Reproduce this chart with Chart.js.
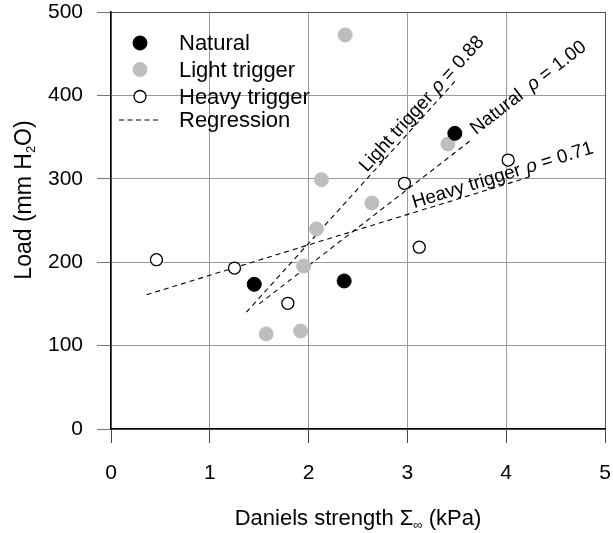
<!DOCTYPE html>
<html><head><meta charset="utf-8">
<script src="https://cdn.jsdelivr.net/npm/chart.js@4.4.1/dist/chart.umd.min.js"></script>
<style>html,body{margin:0;padding:0;background:#fff}#wrap{width:613px;height:533px;position:relative}</style>
</head><body><div id="wrap"><canvas id="c" width="613" height="533"></canvas></div>
<script>
// ---- data ----
const seriesNames = ['Natural', 'Light trigger', 'Heavy trigger', 'Regression'];
const naturalX = [1.45, 2.36, 3.48];
const naturalY = [173.5, 177.5, 354.5];
const lightX = [1.57, 1.92, 1.95, 2.08, 2.13, 2.37, 2.64, 3.41];
const lightY = [114, 117.5, 195.4, 240, 299, 472.5, 271, 341.7];
const heavyX = [0.46, 1.25, 1.79, 2.97, 3.12, 4.02];
const heavyY = [203, 193, 150.7, 294.6, 218, 322.5];
// regression line end points
const regNaturalX = [1.5, 3.63];
const regNaturalY = [150, 345];
const regLightX = [1.37, 3.49];
const regLightY = [140, 418];
const regHeavyX = [0.36, 4.23];
const regHeavyY = [161, 302];
const rhoValues = ['1.00', '0.88', '0.71'];
const xTicks = [0, 1, 2, 3, 4, 5];
const yTicks = [0, 100, 200, 300, 400, 500];
const xTitle = ['Daniels strength \u03A3', '\u221E', ' (kPa)'];
const yTitle = ['Load (mm H', '2', 'O)'];

const pts = (xs, ys) => xs.map((x, i) => ({x, y: ys[i]}));
const FONT = '"Liberation Sans", Arial, Helvetica, sans-serif';
const GRAY = '#bdbdbd';

const regStyle = {type: 'scatter', showLine: true, pointRadius: 0, borderColor: '#000',
  borderWidth: 1.1, borderDash: [5, 4], fill: false};

const datasets = [
  {label: seriesNames[0], data: pts(naturalX, naturalY), pointRadius: 7, pointBorderWidth: 1,
   backgroundColor: '#000', borderColor: '#000'},
  {label: seriesNames[1], data: pts(lightX, lightY), pointRadius: 7, pointBorderWidth: 1,
   backgroundColor: GRAY, borderColor: GRAY},
  {label: seriesNames[2], data: pts(heavyX, heavyY), pointRadius: 6, pointBorderWidth: 1.3,
   backgroundColor: '#fff', borderColor: '#000'},
  Object.assign({label: 'regNatural', data: pts(regNaturalX, regNaturalY)}, regStyle),
  Object.assign({label: 'regLight', data: pts(regLightX, regLightY)}, regStyle),
  Object.assign({label: 'regHeavy', data: pts(regHeavyX, regHeavyY)}, regStyle)
];

// line labels along regression lines
const lineLabelPlugin = {
  id: 'lineLabels',
  afterDatasetsDraw(chart, args, opts) {
    const ctx = chart.ctx, xs = chart.scales.x, ys = chart.scales.y;
    opts.items.forEach(it => {
      const ds = chart.data.datasets[it.ds].data;
      const x1 = xs.getPixelForValue(ds[0].x), y1 = ys.getPixelForValue(ds[0].y);
      const x2 = xs.getPixelForValue(ds[1].x), y2 = ys.getPixelForValue(ds[1].y);
      const ang = Math.atan2(y2 - y1, x2 - x1);
      const px = xs.getPixelForValue(it.startX);
      const py = y1 + (px - x1) * (y2 - y1) / (x2 - x1);
      const nx = Math.sin(ang), ny = -Math.cos(ang);
      ctx.save();
      ctx.translate(px + nx * it.off, py + ny * it.off);
      ctx.rotate(ang);
      ctx.fillStyle = '#000';
      ctx.textBaseline = 'alphabetic';
      ctx.textAlign = 'left';
      let cx = 0;
      const normal = opts.size + 'px ' + FONT;
      const ital = 'italic ' + opts.size + 'px ' + FONT;
      ctx.font = normal;
      ctx.fillText(it.name, cx, 0); cx += ctx.measureText(it.name).width + it.gap;
      ctx.font = ital;
      ctx.fillText('\u03C1', cx, 0); cx += ctx.measureText('\u03C1').width;
      ctx.font = normal;
      ctx.fillText(' = ' + it.rho, cx, 0);
      ctx.restore();
    });
  }
};

// legend inside plot + axis titles
const decorPlugin = {
  id: 'decor',
  afterDraw(chart) {
    const ctx = chart.ctx, a = chart.chartArea;
    ctx.save();
    // legend
    const mx = a.left + 29, tx = a.left + 68;
    const rows = [a.top + 31, a.top + 57.5, a.top + 84.5, a.top + 108];
    const dsets = chart.data.datasets;
    for (let i = 0; i < 3; i++) {
      ctx.beginPath();
      ctx.arc(mx, rows[i], dsets[i].pointRadius, 0, Math.PI * 2);
      ctx.fillStyle = dsets[i].backgroundColor; ctx.fill();
      ctx.lineWidth = dsets[i].pointBorderWidth; ctx.strokeStyle = dsets[i].borderColor; ctx.stroke();
    }
    ctx.beginPath();
    ctx.setLineDash([5, 3.5]); ctx.lineWidth = 1.1; ctx.strokeStyle = '#000';
    ctx.moveTo(a.left + 8, rows[3]); ctx.lineTo(a.left + 50, rows[3]); ctx.stroke();
    ctx.setLineDash([]);
    ctx.fillStyle = '#000'; ctx.font = '22px ' + FONT; ctx.textBaseline = 'middle'; ctx.textAlign = 'left';
    seriesNames.forEach((n, i) => ctx.fillText(n, tx, rows[i] + 1));

    // x title
    const big = '22px ' + FONT, small = '13px ' + FONT;
    ctx.font = big; const w1 = ctx.measureText(xTitle[0]).width, w3 = ctx.measureText(xTitle[2]).width;
    ctx.font = small; const w2 = ctx.measureText(xTitle[1]).width;
    let x0 = (a.left + a.right) / 2 - (w1 + w2 + w3) / 2;
    const by = 525;
    ctx.textBaseline = 'alphabetic';
    ctx.font = big; ctx.fillText(xTitle[0], x0, by);
    ctx.font = small; ctx.fillText(xTitle[1], x0 + w1, by + 4);
    ctx.font = big; ctx.fillText(xTitle[2], x0 + w1 + w2, by);

    // y title
    const ybig = '23px ' + FONT, ysmall = '13px ' + FONT;
    ctx.font = ybig; const v1 = ctx.measureText(yTitle[0]).width, v3 = ctx.measureText(yTitle[2]).width;
    ctx.font = ysmall; const v2 = ctx.measureText(yTitle[1]).width;
    ctx.translate(31, 200); ctx.rotate(-Math.PI / 2);
    let s = -(v1 + v2 + v3) / 2;
    ctx.font = ybig; ctx.fillText(yTitle[0], s, 0);
    ctx.font = ysmall; ctx.fillText(yTitle[1], s + v1, 4);
    ctx.font = ybig; ctx.fillText(yTitle[2], s + v1 + v2, 0);
    ctx.restore();
  }
};

new Chart(document.getElementById('c'), {
  type: 'scatter',
  data: {datasets},
  plugins: [lineLabelPlugin, decorPlugin],
  options: {
    responsive: false, animation: false, devicePixelRatio: 1,
    layout: {padding: 0},
    plugins: {
      legend: {display: false}, tooltip: {enabled: false},
      lineLabels: {size: 19, items: [
        {ds: 4, name: 'Light trigger', rho: rhoValues[1], startX: 2.62, off: 4, gap: 6},
        {ds: 3, name: 'Natural', rho: rhoValues[0], startX: 3.7, off: 1, gap: 10},
        {ds: 5, name: 'Heavy trigger', rho: rhoValues[2], startX: 3.08, off: 4, gap: 6}
      ]}
    },
    scales: {
      x: {
        type: 'linear', min: xTicks[0], max: xTicks[xTicks.length - 1],
        afterFit(s) { s.height = 104; s.paddingLeft = 0; s.paddingRight = 6; s.paddingTop = 0; s.paddingBottom = 0; },
        afterBuildTicks(s) { s.ticks = xTicks.map(v => ({value: v})); },
        ticks: {font: {size: 21, family: FONT}, color: '#000', padding: 18, maxRotation: 0},
        grid: {color: c => c.tick && c.tick.value === 5 ? '#555' : '#999', lineWidth: 1,
               tickLength: 14, tickColor: '#444'},
        border: {color: '#000', width: 1.5}
      },
      y: {
        type: 'linear', min: yTicks[0], max: yTicks[yTicks.length - 1],
        afterFit(s) { s.width = 111; s.paddingTop = 12; s.paddingBottom = 0; s.paddingLeft = 0; s.paddingRight = 0; },
        afterBuildTicks(s) { s.ticks = yTicks.map(v => ({value: v})); },
        ticks: {font: {size: 21, family: FONT}, color: '#000', padding: 14},
        grid: {color: c => c.tick && c.tick.value === 500 ? '#555' : '#999', lineWidth: 1,
               tickLength: 14, tickColor: '#777'},
        border: {color: '#000', width: 1.5}
      }
    }
  }
});
</script>
</body></html>
